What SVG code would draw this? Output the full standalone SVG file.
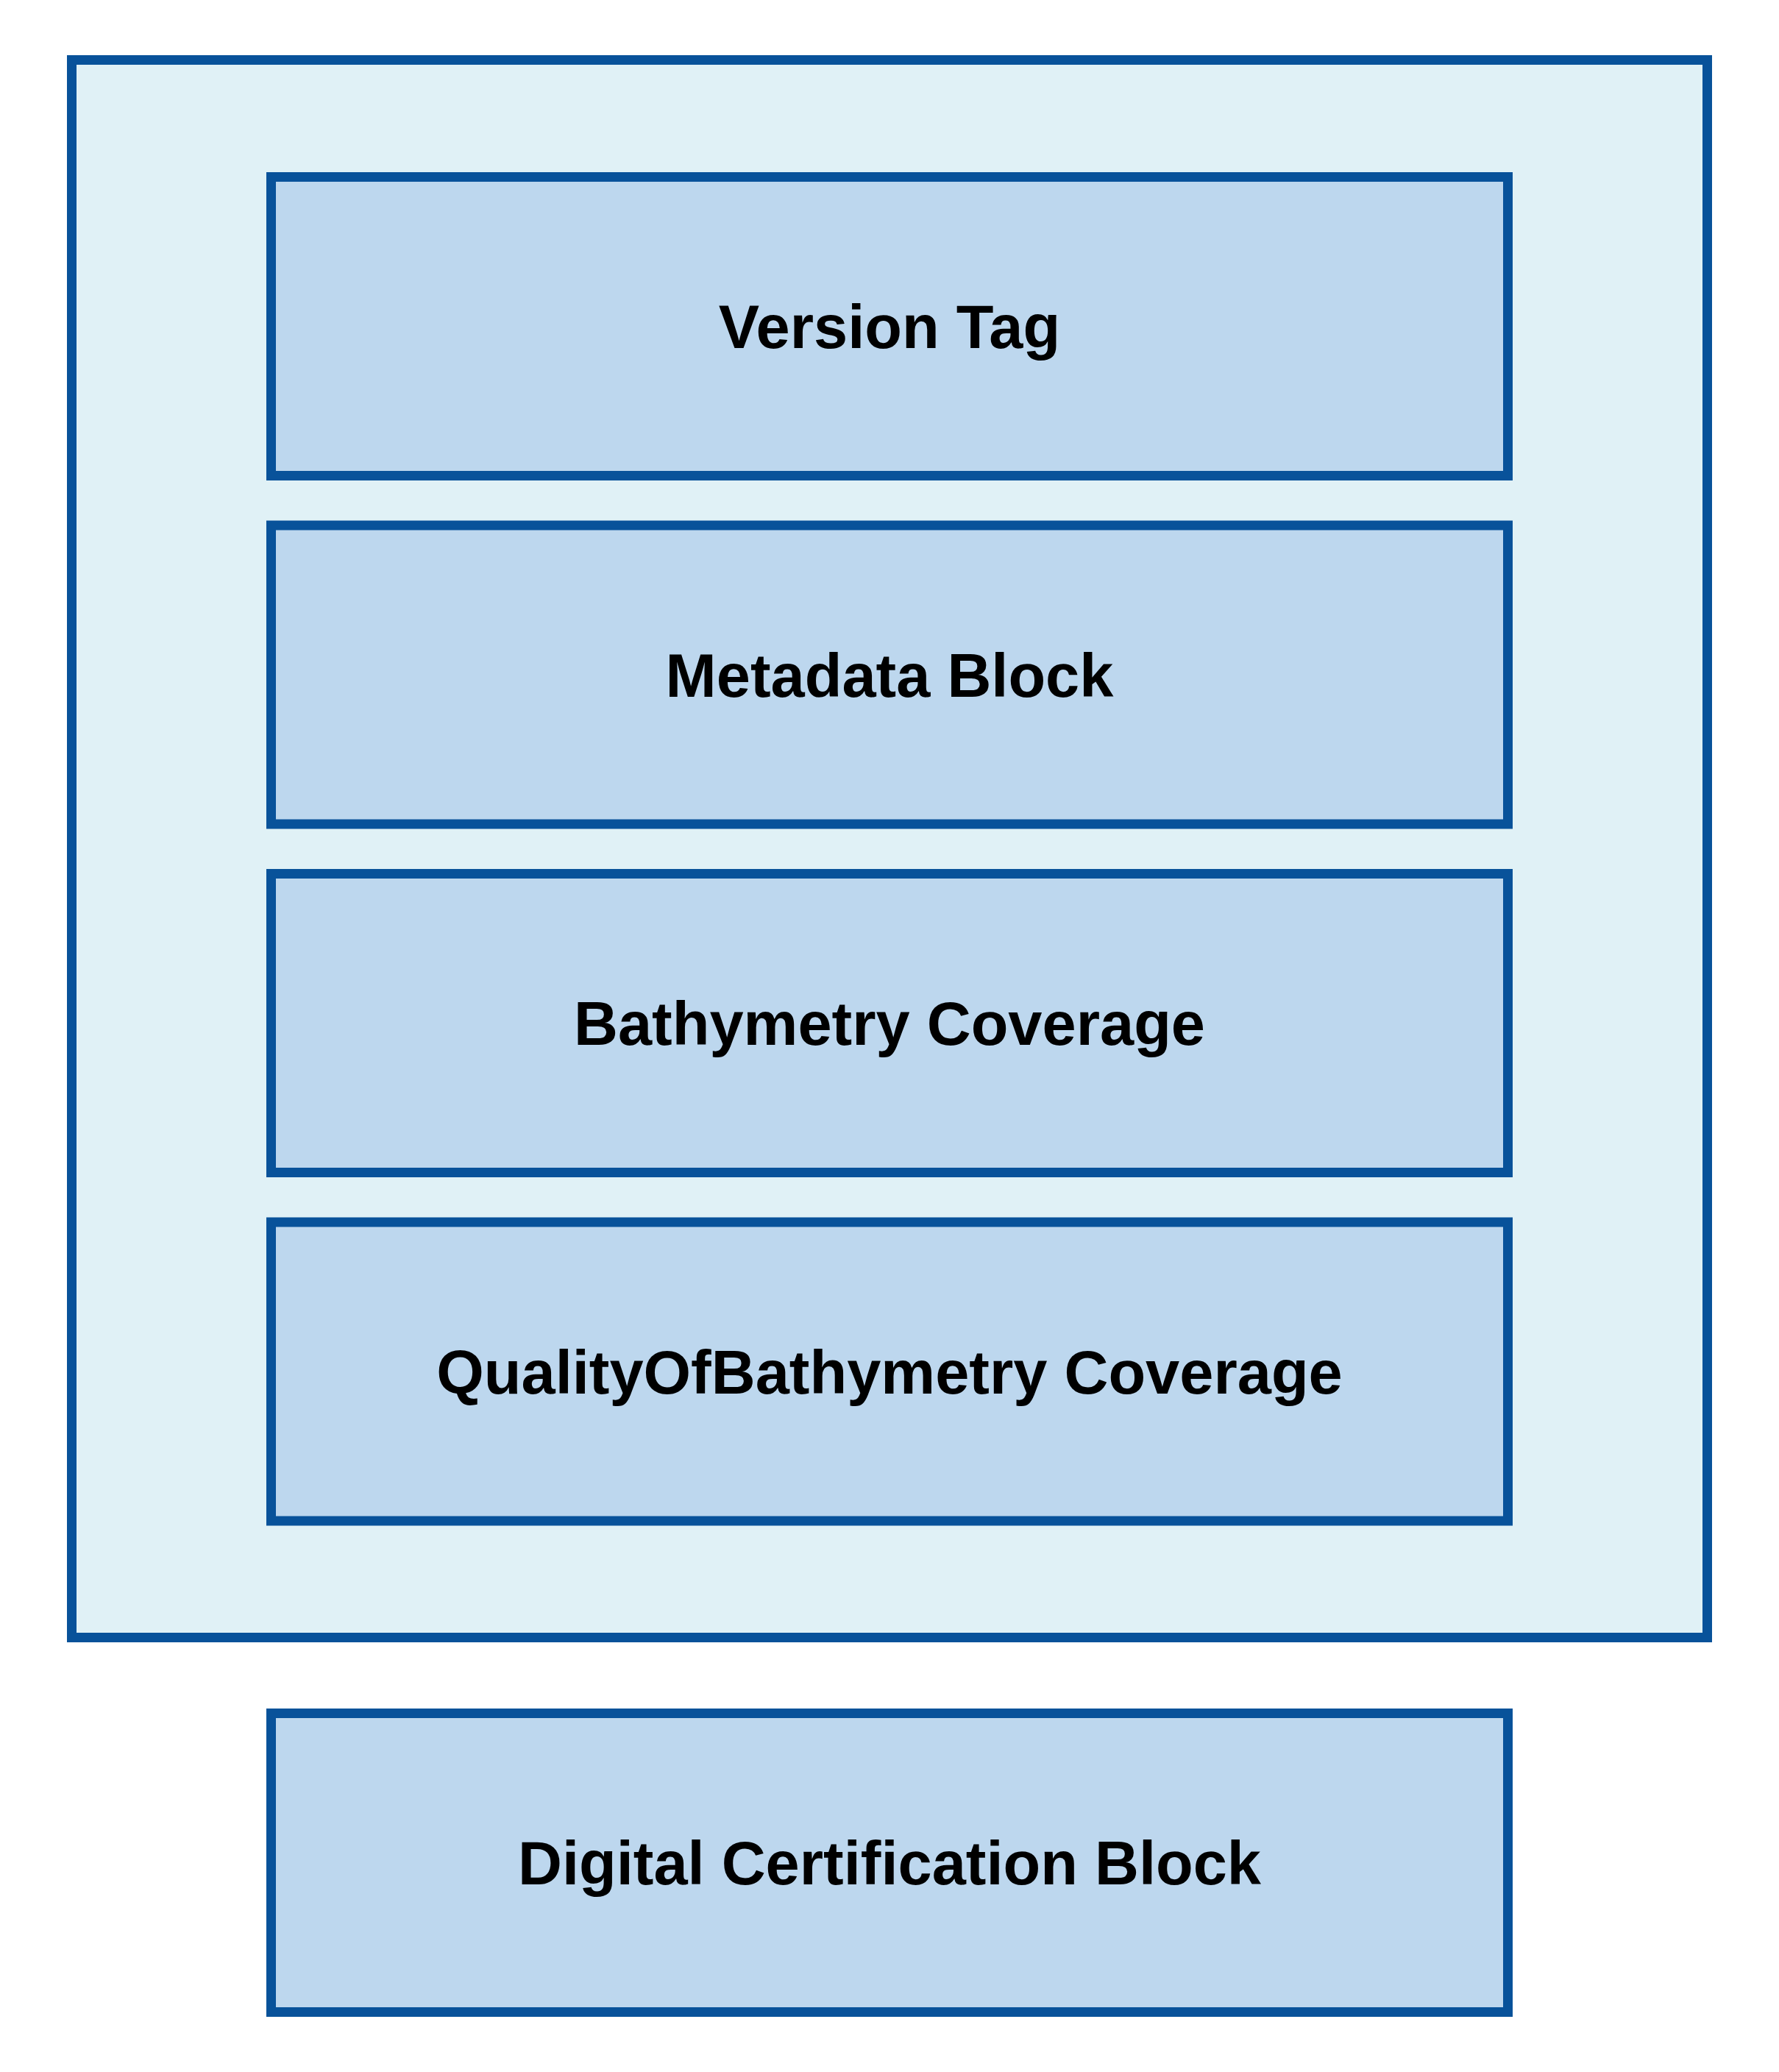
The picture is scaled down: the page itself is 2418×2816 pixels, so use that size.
<svg xmlns="http://www.w3.org/2000/svg" width="2418" height="2816" viewBox="0 0 2418 2816">
<style>
.outer{fill:#E0F1F6;stroke:#08529A;stroke-width:13}
.box{fill:#BDD7EE;stroke:#08529A;stroke-width:13}
.lbl{font-family:"Liberation Sans",Arial,sans-serif;font-weight:bold;font-size:83px;fill:#000;text-anchor:middle}
</style>
<rect width="2418" height="2816" fill="#FFFFFF"/>
<g id="container">
<rect class="outer" x="97.5" y="81.5" width="2223" height="2144"/>
</g>
<g id="version-tag">
<rect class="box" x="368.5" y="240.5" width="1681" height="406"/>
<text class="lbl" x="1209" y="473">Version Tag</text>
</g>
<g id="metadata-block">
<rect class="box" x="368.5" y="714" width="1681" height="406"/>
<text class="lbl" x="1209" y="946.5">Metadata Block</text>
</g>
<g id="bathymetry-coverage">
<rect class="box" x="368.5" y="1187.5" width="1681" height="406"/>
<text class="lbl" x="1209" y="1420">Bathymetry Coverage</text>
</g>
<g id="quality-coverage">
<rect class="box" x="368.5" y="1661" width="1681" height="406"/>
<text class="lbl" x="1209" y="1893.5">QualityOfBathymetry Coverage</text>
</g>
<g id="digital-certification">
<rect class="box" x="368.5" y="2328.5" width="1681" height="406"/>
<text class="lbl" x="1209" y="2561">Digital Certification Block</text>
</g>
<g id="connectors"></g>
</svg>
